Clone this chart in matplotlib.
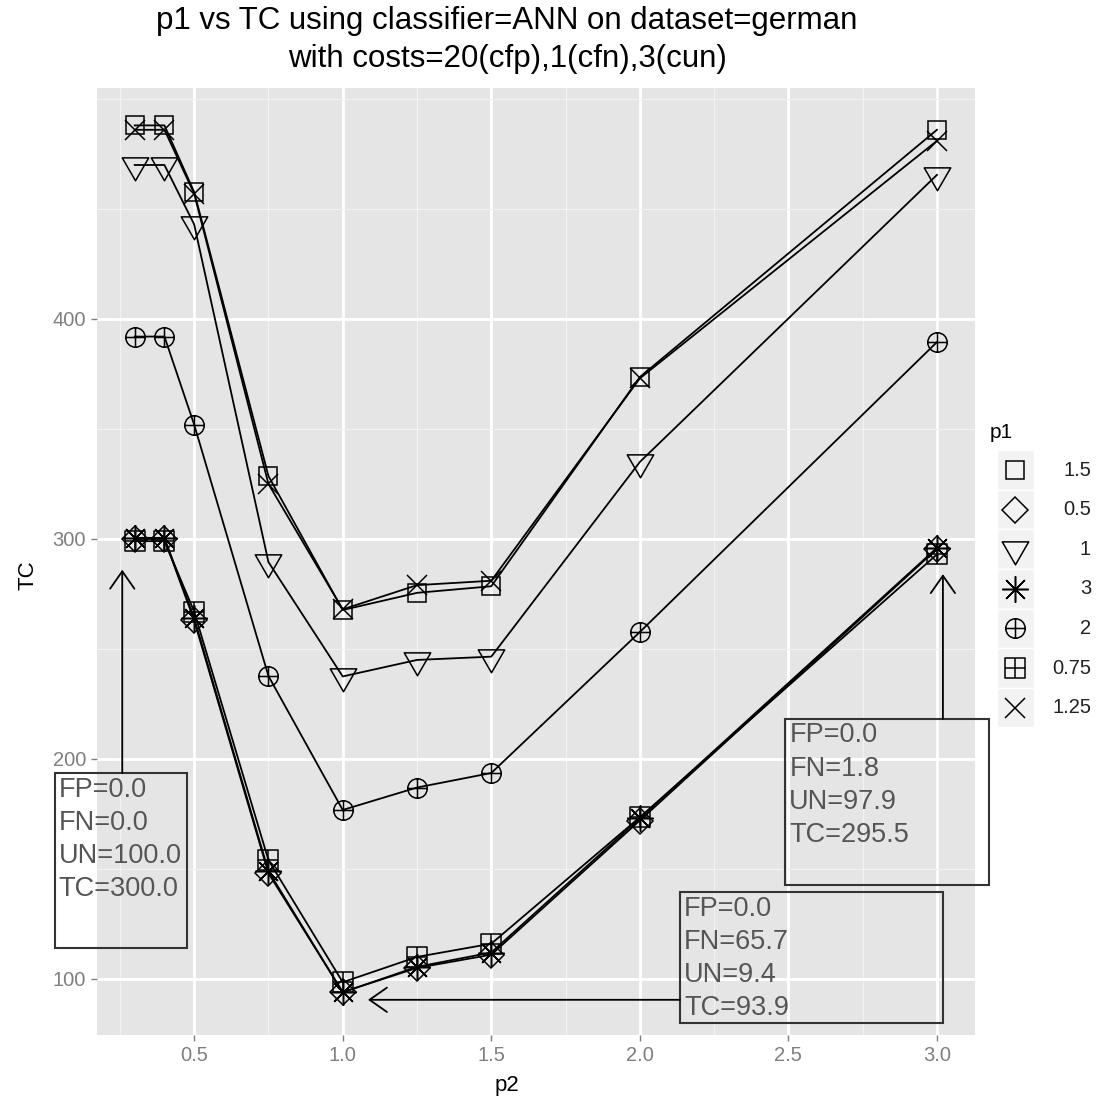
import numpy as np
import matplotlib
matplotlib.use("Agg")
import matplotlib.pyplot as plt
from matplotlib.path import Path
from matplotlib.patches import Rectangle
from matplotlib.ticker import MultipleLocator, FixedLocator

plt.rcParams['font.family'] = ['Liberation Sans', 'DejaVu Sans']

# ---------------- data ----------------
p2 = [0.3, 0.4, 0.5, 0.75, 1.0, 1.25, 1.5, 2.0, 3.0]
p1_levels = ["1.5", "0.5", "1", "3", "2", "0.75", "1.25"]
tc_1_5 = [488, 488, 457.7, 328.6, 267.7, 275.5, 278.5, 373.6, 486]
tc_0_5 = [300, 300, 263, 148, 94.0, 105, 111, 172, 295.5]
tc_1 = [470, 470, 443, 289.5, 237.5, 245, 246.5, 335, 465.5]
tc_3 = [300.5, 300.5, 264, 149, 93.9, 105.5, 112, 173, 296]
tc_2 = [392, 392, 352, 237.7, 176.8, 187, 193.6, 257.7, 389.5]
tc_0_75 = [299, 299, 267, 154, 98.5, 110, 116, 173.5, 293]
tc_1_25 = [486, 486, 457, 325, 268, 279, 281, 373, 481]
series = [tc_1_5, tc_0_5, tc_1, tc_3, tc_2, tc_0_75, tc_1_25]

x_ticks = [0.5, 1.0, 1.5, 2.0, 2.5, 3.0]
x_tick_labels = ["0.5", "1.0", "1.5", "2.0", "2.5", "3.0"]
y_ticks = [100, 200, 300, 400]
y_tick_labels = ["100", "200", "300", "400"]

annot_texts = ["FP=0.0\nFN=0.0\nUN=100.0\nTC=300.0",
               "FP=0.0\nFN=65.7\nUN=9.4\nTC=93.9",
               "FP=0.0\nFN=1.8\nUN=97.9\nTC=295.5"]

# ---------------- marker shapes ----------------
M, L, C = Path.MOVETO, Path.LINETO, Path.CLOSEPOLY
cross = Path([(-1, 0), (1, 0), (0, -1), (0, 1)], [M, L, M, L])
circle_plus = Path.make_compound_path(Path.unit_circle(), cross)
square = Path([(-1, -1), (1, -1), (1, 1), (-1, 1), (-1, -1)], [M, L, L, L, C])
square_plus = Path.make_compound_path(square, cross)
tri_down = Path([(-1, 0.577), (1, 0.577), (0, -1.155), (-1, 0.577)], [M, L, L, C])

styles = [
    dict(marker='s', ms=13),
    dict(marker='D', ms=13),
    dict(marker=tri_down, ms=22),
    dict(marker=(8, 2, 0), ms=19),
    dict(marker=circle_plus, ms=14),
    dict(marker=square_plus, ms=14),
    dict(marker='x', ms=14),
]

W, H = 1098, 1101
fig = plt.figure(figsize=(W / 100, H / 100), dpi=100)
ax = fig.add_axes([97 / W, (H - 1035) / H, (975 - 97) / W, (1035 - 88) / H])
ax.set_facecolor('#E5E5E5')
for s in ax.spines.values():
    s.set_visible(False)

for vals, st in zip(series, styles):
    ax.plot(p2, vals, color='black', lw=1.3, mfc='none', mec='black', mew=1.1,
            zorder=3, **st)

ax.set_xlim(0.173, 3.128)
ax.set_ylim(74.5, 505)
ax.xaxis.set_major_locator(FixedLocator(x_ticks))
ax.set_xticklabels(x_tick_labels)
ax.yaxis.set_major_locator(FixedLocator(y_ticks))
ax.set_yticklabels(y_tick_labels)
ax.xaxis.set_minor_locator(MultipleLocator(0.25))
ax.yaxis.set_minor_locator(MultipleLocator(50))
ax.grid(which='major', color='white', lw=2.0, zorder=0)
ax.grid(which='minor', color='#F2F2F2', lw=0.9, zorder=0)
ax.set_axisbelow(True)
ax.tick_params(which='major', length=4, width=1, color='#7F7F7F',
               labelcolor='#7F7F7F', labelsize=14.5, pad=4)
ax.tick_params(which='minor', length=0)
ax.set_xlabel('p2', fontsize=16)
ax.set_ylabel('TC', fontsize=16)
ax.xaxis.set_label_coords((507 - 97) / 878, -(1085 - 1035) / 947, transform=ax.transAxes)
ax.yaxis.set_label_coords(-(97 - 28) / 878, (1035 - 575) / 947, transform=ax.transAxes)
ax.xaxis.label.set_va('center')
ax.yaxis.label.set_va('center')

# ---------------- annotations ----------------
boxes = [(0.032, 114.1, 0.476, 193.6), (2.135, 80.0, 3.020, 139.5),
         (2.489, 142.7, 3.175, 218.2)]
text_pos = [(0.044, 192.0), (2.149, 137.8), (2.503, 216.6)]
arrows = [((0.258, 193.6), (0.258, 286.0)),
          ((2.135, 90.5), (1.085, 90.5)),
          ((3.020, 218.2), (3.020, 284.0))]
for (x0, y0, x1, y1), (tx, ty), txt, (a0, a1) in zip(boxes, text_pos, annot_texts, arrows):
    ax.add_patch(Rectangle((x0, y0), x1 - x0, y1 - y0, fill=False,
                           ec='#333333', lw=1.5, clip_on=False, zorder=4))
    ax.text(tx, ty, txt, ha='left', va='top', fontsize=19.5, color='#555555',
            linespacing=1.36, clip_on=False, zorder=5)
    ax.annotate('', xy=a1, xytext=a0, annotation_clip=False,
                arrowprops=dict(arrowstyle='->,head_length=0.5,head_width=0.35',
                                lw=1.3, color='black', shrinkA=0, shrinkB=0,
                                mutation_scale=25), zorder=5)

# ---------------- title ----------------
fig.text(507 / W, 1 - 21 / H, 'p1 vs TC using classifier=ANN on dataset=german',
         ha='center', va='center', fontsize=22.5)
fig.text(507 / W, 1 - 59 / H, 'with costs=20(cfp),1(cfn),3(cun)',
         ha='center', va='center', fontsize=22.5)

# ---------------- legend ----------------
lx0, lx1, ly0, ly1 = 980, 1098, 410, 730
lax = fig.add_axes([lx0 / W, 1 - ly1 / H, (lx1 - lx0) / W, (ly1 - ly0) / H])
lax.set_xlim(lx0, lx1)
lax.set_ylim(ly1, ly0)
lax.axis('off')
lax.text(990, 432, 'p1', ha='left', va='center', fontsize=15)
for i, (lab, st) in enumerate(zip(p1_levels, styles)):
    yy = 470 + i * 39.6
    lax.add_patch(Rectangle((997, yy - 19.8), 37, 39.6, fc='#F2F2F2', ec='white', lw=1))
    lax.plot([1015], [yy], color='black', mfc='none', mec='black', mew=1.1, **st)
    lax.text(1091, yy, lab, ha='right', va='center', fontsize=14.5, color='#222222')

fig.savefig('out.png', dpi=100)
